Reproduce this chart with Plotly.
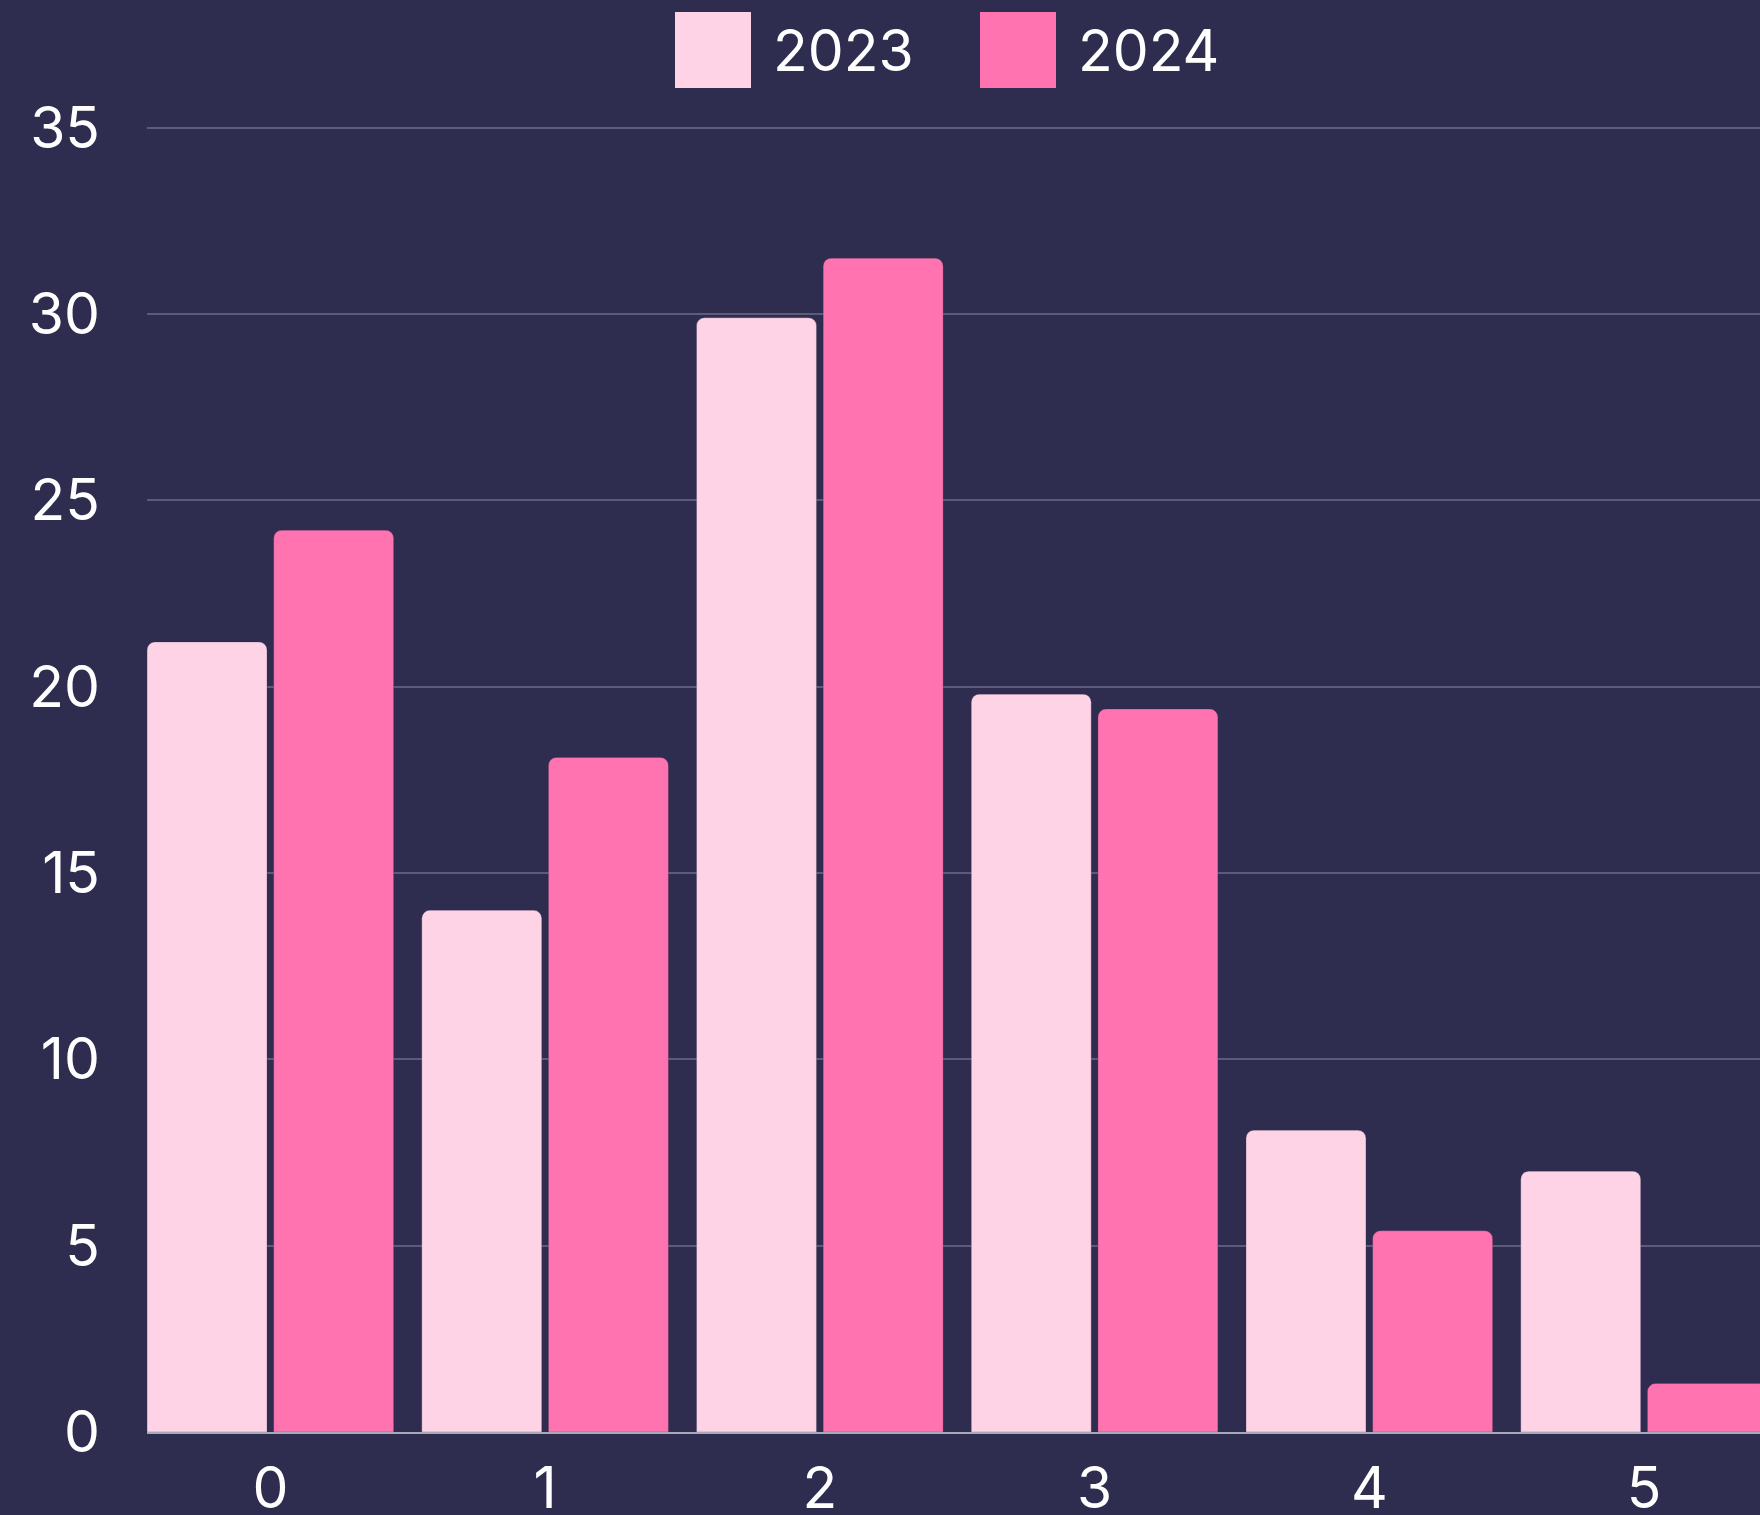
import plotly.graph_objects as go

categories = ["0", "1", "2", "3", "4", "5"]
series_names = ["2023", "2024"]
values_2023 = [21.2, 14.0, 29.9, 19.8, 8.1, 7.0]
values_2024 = [24.2, 18.1, 31.5, 19.4, 5.4, 1.3]
y_ticks = [0, 5, 10, 15, 20, 25, 30, 35]

BG = "#2e2d4f"
C2023 = "#ffd3e6"
C2024 = "#ff73b0"
FONT = "Inter"

fig = go.Figure()
for name, vals, col in [(series_names[0], values_2023, C2023), (series_names[1], values_2024, C2024)]:
    fig.add_trace(go.Bar(
        x=categories, y=vals, name=name,
        marker=dict(color=col, cornerradius=8,
                    line=dict(width=1, color="rgba(46,45,79,0.25)")),
        showlegend=False,
    ))

# Large square legend drawn manually
L, R, T, B = 147, 0, 124, 83
W, H = 1760, 1515
pw, ph = W - L - R, H - T - B

def px_x(x):
    return (x - L) / pw

def px_y(y):
    return (H - B - y) / ph

legend_items = [(series_names[0], C2023, 675), (series_names[1], C2024, 980)]
for name, col, x0 in legend_items:
    fig.add_shape(type="rect", xref="paper", yref="paper",
                  x0=px_x(x0), x1=px_x(x0 + 76), y0=px_y(88), y1=px_y(12),
                  fillcolor=col, line=dict(width=0), layer="above")
    fig.add_annotation(xref="paper", yref="paper", x=px_x(x0 + 96), y=px_y(51),
                       text=name, showarrow=False, xanchor="left", yanchor="middle",
                       font=dict(family=FONT, size=57, color="#ffffff"))

fig.update_layout(
    width=W, height=H,
    paper_bgcolor=BG, plot_bgcolor=BG,
    margin=dict(l=L, r=R, t=T, b=B),
    barmode="group", bargap=0.078, bargroupgap=0.053,
    font=dict(family=FONT, size=57, color="#ffffff"),
    xaxis=dict(type="category", range=[-0.449, 5.422], showgrid=False,
               showline=True, linecolor="#a8a8b8", linewidth=2,
               ticks="", tickfont=dict(size=57, color="#ffffff"),
               ticklabelstandoff=6, zeroline=False, automargin=False),
    yaxis=dict(range=[0, 35.1], tickvals=y_ticks, showgrid=True,
               gridcolor="#5c5b7a", gridwidth=2, zeroline=False,
               showline=False, ticks="", tickfont=dict(size=57, color="#ffffff"),
               ticklabelstandoff=46, automargin=False),
)

fig.write_html("out.html",
               config={"displayModeBar": False},
               post_script="document.body.style.margin='0';document.body.style.background='#2e2d4f';document.body.style.overflow='hidden';")
